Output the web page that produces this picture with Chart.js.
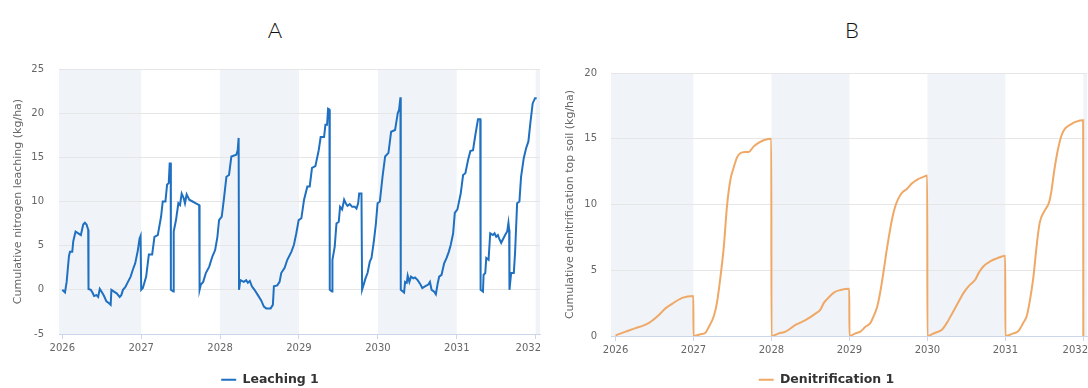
<!DOCTYPE html>
<html>
<head>
<meta charset="utf-8">
<script src="https://cdn.jsdelivr.net/npm/chart.js@4.4.0/dist/chart.umd.min.js"></script>
<style>
  html, body { margin: 0; padding: 0; background: #fff; }
  body { position: relative; width: 1088px; height: 388px; overflow: hidden; }
  .panel-title {
    position: absolute; top: 16px; width: 40px; margin-left: -20px;
    text-align: center; font-family: Lato, "Open Sans", sans-serif;
    font-weight: 300; font-size: 22px; line-height: 28px; color: #111;
  }
  canvas { position: absolute; top: 0; }
</style>
</head>
<body>
<div class="panel-title" style="left:275px">A</div>
<div class="panel-title" style="left:852px">B</div>
<canvas id="leachingChart" width="550" height="400" style="left:0"></canvas>
<canvas id="denitChart" width="538" height="400" style="left:550px"></canvas>
<script>
// year ticks and the alternating shaded years
const yearTicks = [2026, 2027, 2028, 2029, 2030, 2031, 2032];
const shadedYears = [[2025, 2027], [2028, 2029], [2030, 2031], [2032, 2033]];

// cumulative N leaching, kg/ha  [decimal year, value]
const leaching = [
  [2026.000, 0], [2026.034, -0.3], [2026.055, 0.9], [2026.084, 3.8], [2026.097, 4.3], [2026.126, 4.3],
  [2026.139, 5.5], [2026.168, 6.6], [2026.202, 6.4], [2026.235, 6.2], [2026.265, 7.4], [2026.286, 7.6],
  [2026.307, 7.4], [2026.328, 6.8], [2026.332, 0.1], [2026.361, 0], [2026.382, -0.3], [2026.403, -0.7],
  [2026.433, -0.6], [2026.454, -0.8], [2026.475, 0.1], [2026.504, -0.3], [2026.529, -0.7], [2026.559, -1.3],
  [2026.588, -1.5], [2026.613, -1.7], [2026.622, 0], [2026.655, -0.2], [2026.689, -0.4], [2026.727, -0.8],
  [2026.748, -0.6], [2026.769, 0], [2026.798, 0.3], [2026.832, 0.9], [2026.866, 1.5], [2026.895, 2.3],
  [2026.924, 3.0], [2026.958, 4.5], [2026.979, 5.8], [2026.992, 6.1], [2027.000, 0],
  [2027.021, 0.2], [2027.063, 1.5], [2027.097, 4.0], [2027.139, 4.0], [2027.168, 6.0], [2027.210, 6.2],
  [2027.252, 8.3], [2027.273, 10.0], [2027.307, 10.0], [2027.328, 11.9], [2027.349, 12.1], [2027.361, 14.3],
  [2027.374, 14.3], [2027.376, 0], [2027.408, -0.2], [2027.412, 6.6], [2027.441, 7.9], [2027.471, 9.8],
  [2027.492, 9.6], [2027.513, 10.9], [2027.538, 10.4], [2027.555, 9.8], [2027.576, 10.8], [2027.609, 10.2],
  [2027.651, 10.0], [2027.693, 9.8], [2027.735, 9.6], [2027.740, 0], [2027.756, 0.6], [2027.786, 0.9],
  [2027.819, 1.9], [2027.861, 2.6], [2027.903, 3.8], [2027.937, 4.5], [2027.966, 6.0], [2027.987, 7.9],
  [2028.021, 8.3], [2028.050, 10.4], [2028.080, 12.8], [2028.113, 13.0], [2028.143, 15.1], [2028.206, 15.3],
  [2028.223, 15.8], [2028.235, 17.2], [2028.240, 0], [2028.255, 1.1], [2028.301, 0.9], [2028.331, 1.1],
  [2028.352, 0.8], [2028.377, 1.0], [2028.403, 0.4], [2028.436, 0], [2028.479, -0.6], [2028.521, -1.2],
  [2028.555, -1.9], [2028.585, -2.1], [2028.640, -2.1], [2028.669, -1.7], [2028.682, 0.4], [2028.725, 0.5],
  [2028.754, 0.9], [2028.775, 1.9], [2028.818, 2.5], [2028.852, 3.4], [2028.903, 4.3], [2028.936, 5.1],
  [2028.966, 6.4], [2028.996, 7.9],
  [2029.030, 8.1], [2029.064, 10.2], [2029.106, 11.7], [2029.136, 11.7], [2029.165, 13.8], [2029.208, 14.0],
  [2029.250, 15.8], [2029.275, 17.3], [2029.318, 17.3], [2029.335, 18.7], [2029.356, 18.7], [2029.369, 20.5],
  [2029.386, 20.4], [2029.390, 0], [2029.419, -0.2], [2029.424, 3.4], [2029.453, 4.9], [2029.475, 7.5],
  [2029.504, 7.7], [2029.521, 9.4], [2029.547, 9.1], [2029.572, 10.2], [2029.593, 9.8], [2029.614, 9.5],
  [2029.644, 9.7], [2029.674, 9.4], [2029.708, 9.4], [2029.729, 9.2], [2029.750, 9.8], [2029.763, 10.9],
  [2029.792, 10.9], [2029.800, 0], [2029.814, 0.4], [2029.843, 1.3], [2029.869, 1.9], [2029.898, 3.2],
  [2029.919, 3.6], [2029.949, 5.5], [2029.975, 7.5], [2029.996, 9.8],
  [2030.025, 10.0], [2030.059, 12.8], [2030.092, 15.1], [2030.134, 15.5], [2030.168, 17.9], [2030.218, 18.1],
  [2030.252, 20.0], [2030.269, 20.4], [2030.286, 21.8], [2030.290, 0], [2030.332, -0.3], [2030.345, 0.9],
  [2030.366, 0.8], [2030.378, 1.6], [2030.399, 0.9], [2030.420, 1.5], [2030.450, 1.3], [2030.471, 1.4],
  [2030.504, 1.1], [2030.534, 0.7], [2030.563, 0.2], [2030.597, 0.4], [2030.639, 0.6], [2030.660, 0.9],
  [2030.681, 0], [2030.714, -0.2], [2030.735, -0.5], [2030.756, 0.6], [2030.777, 1.5], [2030.807, 1.7],
  [2030.840, 3.0], [2030.870, 3.6], [2030.899, 4.3], [2030.924, 5.1], [2030.954, 6.4], [2030.975, 8.7],
  [2031.008, 9.1], [2031.050, 10.9], [2031.080, 13.0], [2031.109, 13.2], [2031.143, 14.7], [2031.172, 15.7],
  [2031.206, 15.8], [2031.235, 17.5], [2031.269, 19.3], [2031.298, 19.3], [2031.302, 0], [2031.332, -0.2],
  [2031.340, 1.7], [2031.361, 1.9], [2031.374, 3.6], [2031.403, 3.4], [2031.424, 6.4], [2031.458, 6.2],
  [2031.479, 6.4], [2031.500, 6.0], [2031.521, 6.2], [2031.542, 5.7], [2031.563, 5.3], [2031.584, 5.7],
  [2031.613, 6.2], [2031.639, 6.6], [2031.655, 7.6], [2031.664, 6.8], [2031.668, 0], [2031.689, 1.9],
  [2031.723, 1.9], [2031.739, 4.2], [2031.765, 9.8], [2031.794, 10.0], [2031.815, 12.8], [2031.849, 14.9],
  [2031.878, 16.0], [2031.908, 16.8], [2031.933, 18.9], [2031.962, 21.1], [2031.992, 21.7], [2032.000, 21.8]
];

// cumulative denitrification in the top soil, kg/ha  [decimal year, value]
const denitrification = [
  [2026.000, 0.05], [2026.130, 0.33], [2026.256, 0.6], [2026.340, 0.75], [2026.430, 1.0], [2026.556, 1.6],
  [2026.640, 2.1], [2026.726, 2.45], [2026.855, 2.9], [2026.998, 3.05], [2027.000, 0],
  [2027.090, 0.13], [2027.154, 0.25], [2027.197, 0.7], [2027.260, 1.5], [2027.300, 2.5], [2027.346, 4.5],
  [2027.389, 6.8], [2027.430, 9.9], [2027.474, 11.9], [2027.510, 12.7], [2027.560, 13.6], [2027.600, 13.9],
  [2027.660, 14.0], [2027.710, 14.0], [2027.770, 14.4], [2027.840, 14.7], [2027.910, 14.9], [2027.998, 15.0],
  [2028.000, 0],
  [2028.094, 0.2], [2028.180, 0.33], [2028.308, 0.84], [2028.436, 1.2], [2028.564, 1.7], [2028.628, 2.0],
  [2028.670, 2.5], [2028.714, 2.8], [2028.800, 3.3], [2028.885, 3.5], [2028.998, 3.6], [2029.000, 0],
  [2029.077, 0.2], [2029.140, 0.33], [2029.205, 0.7], [2029.270, 1.0], [2029.310, 1.5], [2029.355, 2.2],
  [2029.400, 3.5], [2029.440, 5.0], [2029.480, 6.6], [2029.547, 8.9], [2029.590, 9.9], [2029.632, 10.5],
  [2029.675, 10.9], [2029.740, 11.2], [2029.800, 11.6], [2029.870, 11.9], [2029.950, 12.1], [2029.998, 12.2],
  [2030.000, 0],
  [2030.100, 0.25], [2030.190, 0.5], [2030.250, 1.0], [2030.316, 1.7], [2030.400, 2.6], [2030.466, 3.3],
  [2030.530, 3.8], [2030.615, 4.3], [2030.658, 4.8], [2030.720, 5.3], [2030.810, 5.7], [2030.890, 5.9],
  [2030.998, 6.1], [2031.000, 0],
  [2031.103, 0.2], [2031.167, 0.38], [2031.230, 1.0], [2031.273, 1.5], [2031.316, 2.75], [2031.360, 4.5],
  [2031.400, 6.8], [2031.440, 8.6], [2031.500, 9.5], [2031.560, 10.15], [2031.590, 11.0], [2031.630, 12.7],
  [2031.675, 14.2], [2031.720, 15.25], [2031.770, 15.8], [2031.840, 16.1], [2031.910, 16.3], [2031.998, 16.4],
  [2032.000, 0]
];

const tickFont = { family: 'DejaVu Sans', size: 10 };

// light background band behind every other year
const yearBands = {
  id: 'yearBands',
  beforeDraw(chart) {
    const { ctx, chartArea: a, scales: { x } } = chart;
    ctx.save();
    ctx.fillStyle = '#f0f4f9';
    shadedYears.forEach(([from, to]) => {
      const l = Math.max(x.getPixelForValue(from), a.left);
      const r = Math.min(x.getPixelForValue(to), a.right);
      if (r > l) ctx.fillRect(l, a.top, r - l, a.bottom - a.top);
    });
    ctx.restore();
  }
};

// keep the last year label inside the plot's right edge
const edgeLabel = {
  id: 'edgeLabel',
  beforeDraw(chart) {
    const items = chart.scales.x.getLabelItems();
    const last = items[items.length - 1];
    if (last) {
      last.options.textAlign = 'right';
      last.options.translation[0] = chart.chartArea.right + 1;
    }
  }
};

function makeOptions(cfg) {
  return {
    responsive: false,
    animation: false,
    layout: { padding: cfg.padding },
    plugins: {
      legend: {
        position: 'bottom',
        labels: {
          usePointStyle: true, pointStyle: 'line', pointStyleWidth: 15, padding: 8,
          color: '#333', font: { family: 'DejaVu Sans', size: 12.5, weight: 'bold' }
        }
      },
      tooltip: { enabled: false }
    },
    scales: {
      x: {
        type: 'linear', min: cfg.xMin, max: cfg.xMax,
        afterBuildTicks: s => { s.ticks = yearTicks.map(v => ({ value: v })); },
        afterFit: s => { s.height = cfg.xHeight; s.paddingLeft = 0; s.paddingRight = 0; },
        ticks: { color: '#666', font: tickFont, padding: 3, maxRotation: 0, autoSkip: false, callback: v => String(v) },
        grid: { drawOnChartArea: false, color: '#ccd6eb', tickLength: 5 },
        border: { color: '#ccd6eb' }
      },
      y: {
        min: cfg.yMin, max: cfg.yMax,
        afterFit: s => { s.width = cfg.yWidth; },
        ticks: { stepSize: 5, color: '#666', font: tickFont, padding: cfg.tickPad },
        grid: { color: '#e6e6e6', drawTicks: false },
        border: { display: false },
        title: {
          display: true, text: cfg.yTitle, color: '#666',
          font: { family: 'DejaVu Sans', size: 11 },
          padding: { top: cfg.titlePad, bottom: 0 }
        }
      }
    }
  };
}

new Chart(document.getElementById('leachingChart'), {
  type: 'line',
  data: {
    datasets: [{
      label: 'Leaching 1',
      data: leaching.map(([x, y]) => ({ x, y })),
      borderColor: '#1f70c1',
      backgroundColor: '#1f70c1',
      borderWidth: 2,
      pointRadius: 0,
      tension: 0
    }]
  },
  options: makeOptions({
    padding: { top: 69, left: 0, right: 10, bottom: 4 },
    xMin: 2025.958, xMax: 2032.055, xHeight: 31.5,
    yMin: -5, yMax: 25, yWidth: 59, tickPad: 15, titlePad: 12,
    yTitle: 'Cumulative nitrogen leaching (kg/ha)'
  }),
  plugins: [yearBands, edgeLabel]
});

new Chart(document.getElementById('denitChart'), {
  type: 'line',
  data: {
    datasets: [{
      label: 'Denitrification 1',
      data: denitrification.map(([x, y]) => ({ x, y })),
      borderColor: '#efa866',
      backgroundColor: '#efa866',
      borderWidth: 2,
      pointRadius: 0,
      cubicInterpolationMode: 'monotone'
    }]
  },
  options: makeOptions({
    padding: { top: 73, left: 16, right: 1, bottom: 4 },
    xMin: 2025.942, xMax: 2032.047, xHeight: 29.5,
    yMin: 0, yMax: 20, yWidth: 45, tickPad: 14, titlePad: -2,
    yTitle: 'Cumulative denitrification top soil (kg/ha)'
  }),
  plugins: [yearBands, edgeLabel]
});
</script>
</body>
</html>
